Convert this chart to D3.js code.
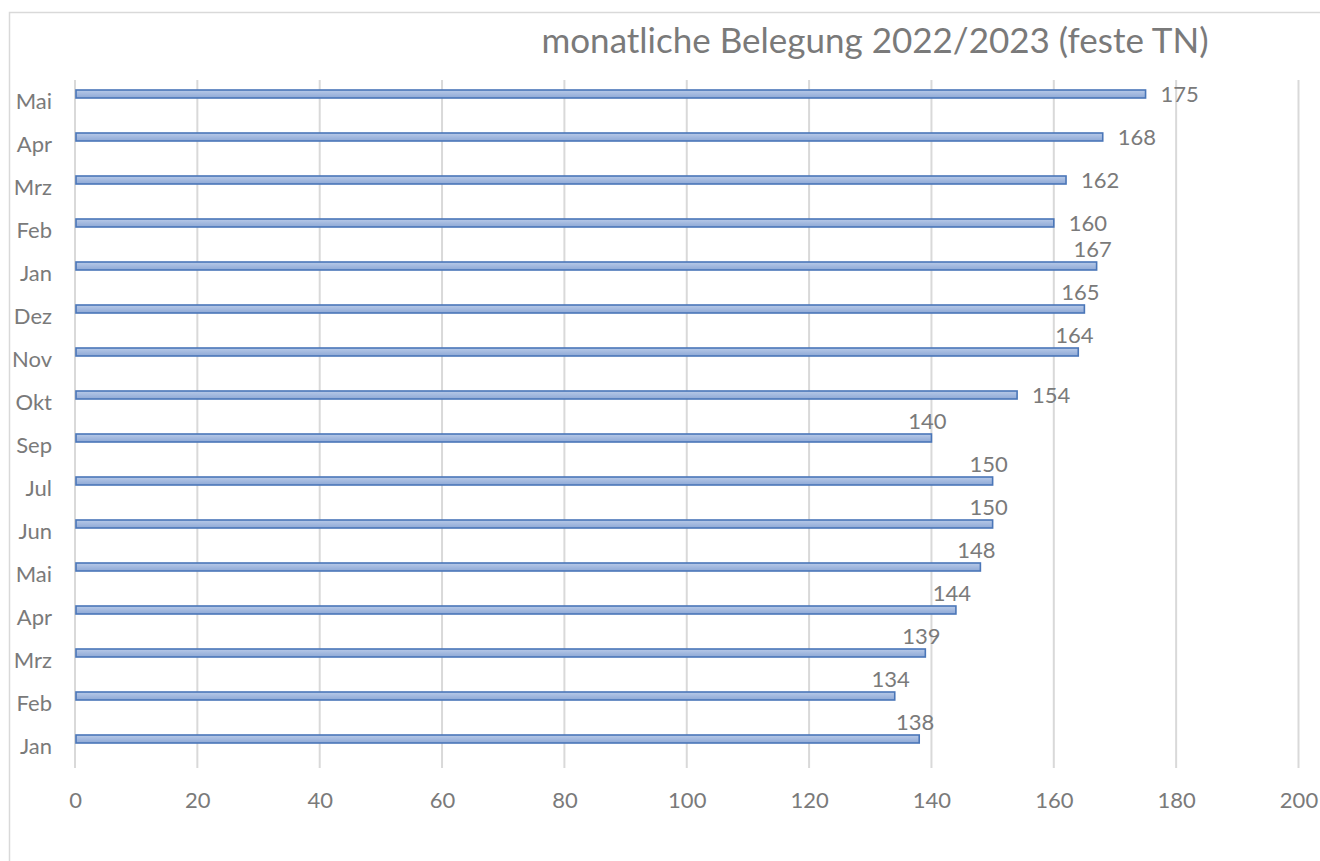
<!DOCTYPE html>
<html><head><meta charset="utf-8">
<script src="https://cdn.jsdelivr.net/npm/d3@7"></script>
<style>body{margin:0;background:#fff}svg{display:block}</style>
</head><body>
<script>
// Data (bottom to top)
const categories = ["Jan","Feb","Mrz","Apr","Mai","Jun","Jul","Sep","Okt","Nov","Dez","Jan","Feb","Mrz","Apr","Mai"];
const values = [138,134,139,144,148,150,150,140,154,164,165,167,160,162,168,175];
const labelPlacement = ["top","top","top","top","top","top","top","top","right","top","top","top","right","right","right","right"];
const xTicks = [0,20,40,60,80,100,120,140,160,180,200];
const title = "monatliche Belegung 2022/2023 (feste TN)";

const W = 1320, H = 861;
const svg = d3.select("body").append("svg").attr("width", W).attr("height", H);
const font = "Lato, 'Open Sans', sans-serif";

// chart border
svg.append("rect").attr("x", 9.5).attr("y", 12.5).attr("width", 1400).attr("height", 900)
  .attr("fill", "#fff").attr("stroke", "#d9d9d9").attr("stroke-width", 1.5);

const defs = svg.append("defs");
const grad = defs.append("linearGradient").attr("id", "barGrad").attr("x1", 0).attr("x2", 0).attr("y1", 0).attr("y2", 1);
grad.append("stop").attr("offset", "0%").attr("stop-color", "#b8cae8");
grad.append("stop").attr("offset", "50%").attr("stop-color", "#a3b9df");
grad.append("stop").attr("offset", "100%").attr("stop-color", "#8ea9d6");

const x = d3.scaleLinear().domain([0, 200]).range([75, 1298.5]);
const idx = categories.map((c, i) => i);
const y = d3.scaleBand().domain(idx.slice().reverse()).range([80, 768]);

// gridlines
svg.append("g").selectAll("line").data(xTicks).join("line")
  .attr("x1", d => x(d)).attr("x2", d => x(d)).attr("y1", 80).attr("y2", 768)
  .attr("stroke", "#d9d9d9").attr("stroke-width", 2);

// x axis labels
const xAxis = d3.axisBottom(x).tickValues(xTicks).tickSize(0).tickPadding(0);
const gx = svg.append("g").attr("transform", "translate(0,808)").call(xAxis);
gx.select(".domain").remove();
gx.selectAll("text").attr("dy", 0).attr("font-family", font).attr("font-size", 22).attr("fill", "#7a7a7a");

// y axis labels
const yAxis = d3.axisLeft(y).tickFormat(i => categories[i]).tickSize(0).tickPadding(0);
const gy = svg.append("g").attr("transform", "translate(52,0)").call(yAxis);
gy.select(".domain").remove();
gy.selectAll("text").attr("dy", "0.32em").attr("font-family", font).attr("font-size", 22).attr("fill", "#7a7a7a");

const barH = 8, barOff = -7.5;
const cy = i => y(i) + y.bandwidth() / 2 + barOff;

svg.append("g").selectAll("rect").data(idx).join("rect")
  .attr("x", x(0) + 1).attr("y", i => cy(i) - barH / 2)
  .attr("width", i => x(values[i]) - x(0) - 1).attr("height", barH)
  .attr("fill", "url(#barGrad)").attr("stroke", "#4a76b8").attr("stroke-width", 1.6);

// data labels
svg.append("g").selectAll("text").data(idx).join("text")
  .attr("x", i => labelPlacement[i] === "right" ? x(values[i]) + 15 : x(values[i]) - 4)
  .attr("y", i => labelPlacement[i] === "right" ? cy(i) + 8 : cy(i) - 9)
  .attr("text-anchor", i => labelPlacement[i] === "right" ? "start" : "middle")
  .attr("font-family", font).attr("font-size", 22).attr("fill", "#7a7a7a")
  .text(i => values[i]);

svg.append("text").attr("x", 875).attr("y", 53).attr("text-anchor", "middle")
  .attr("font-family", font).attr("font-size", 35).attr("fill", "#7a7a7a").text(title);
</script>
</body></html>
